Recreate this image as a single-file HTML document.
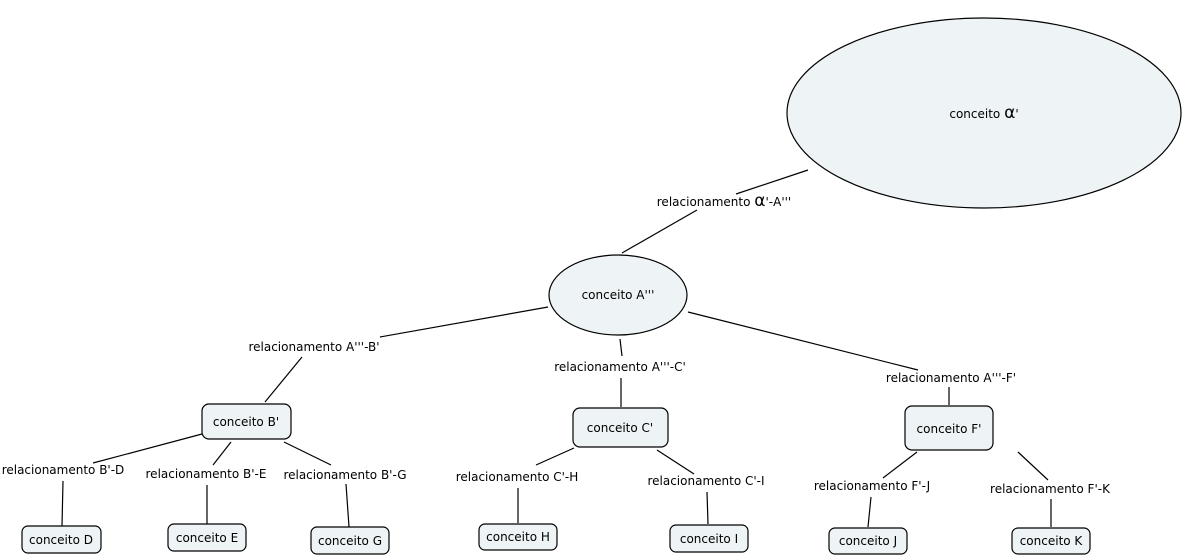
<!DOCTYPE html>
<html><head><meta charset="utf-8"><style>
html,body{margin:0;padding:0;background:#fff;}
svg{display:block;}
text{font-family:"DejaVu Sans","Liberation Sans",sans-serif;font-size:12px;fill:#000;}
</style></head><body>
<svg width="1185" height="557" viewBox="0 0 1185 557" xmlns="http://www.w3.org/2000/svg">
<g stroke="#000" stroke-width="1.2" fill="none">
<line x1="808" y1="170" x2="736" y2="194"/><line x1="697" y1="210" x2="622" y2="253"/>
<line x1="548" y1="307" x2="380" y2="337"/><line x1="302" y1="357" x2="265" y2="402"/>
<line x1="620" y1="339" x2="622" y2="356"/><line x1="621" y1="378" x2="621" y2="407"/>
<line x1="688" y1="312" x2="918" y2="370"/><line x1="949" y1="387" x2="949" y2="405"/>
<line x1="202" y1="434" x2="93" y2="463"/><line x1="63" y1="481" x2="62" y2="526"/>
<line x1="231" y1="442" x2="213" y2="465"/><line x1="207" y1="485" x2="207" y2="524"/>
<line x1="284" y1="442" x2="331" y2="465"/><line x1="346" y1="484" x2="349" y2="527"/>
<line x1="574" y1="448" x2="536" y2="465"/><line x1="518" y1="488" x2="518" y2="523"/>
<line x1="657" y1="450" x2="694" y2="474"/><line x1="707" y1="492" x2="708" y2="524"/>
<line x1="917" y1="452" x2="883" y2="478"/><line x1="871" y1="497" x2="868" y2="527"/>
<line x1="1018" y1="452" x2="1048" y2="480"/><line x1="1051" y1="499" x2="1051" y2="527"/>
</g>
<g stroke="#000" stroke-width="1.2" fill="#eef3f5">
<ellipse cx="984" cy="113" rx="197" ry="95"/>
<ellipse cx="618" cy="295" rx="69" ry="40"/>
<rect x="202" y="404" width="89" height="35" rx="7"/>
<rect x="573" y="408" width="95" height="39" rx="7"/>
<rect x="905" y="406" width="88" height="44" rx="7"/>
<rect x="22" y="526" width="79" height="27" rx="6"/>
<rect x="168" y="524" width="78" height="27" rx="6"/>
<rect x="311" y="527" width="78" height="27" rx="6"/>
<rect x="479" y="524" width="78" height="26" rx="6"/>
<rect x="670" y="525" width="78" height="27" rx="6"/>
<rect x="829" y="528" width="78" height="26" rx="6"/>
<rect x="1012" y="528" width="78" height="26" rx="6"/>
</g>
<g text-anchor="middle">
<text x="984" y="118">conceito <tspan style="font-size:17px">α</tspan>'</text>
<text x="618" y="299">conceito A'''</text>
<text x="724" y="206">relacionamento <tspan style="font-size:17px">α</tspan>'-A'''</text>
<text x="314" y="351">relacionamento A'''-B'</text>
<text x="620" y="371">relacionamento A'''-C'</text>
<text x="951" y="382">relacionamento A'''-F'</text>
<text x="246" y="426">conceito B'</text>
<text x="620" y="432">conceito C'</text>
<text x="949" y="433">conceito F'</text>
<text x="63" y="474">relacionamento B'-D</text>
<text x="206" y="478">relacionamento B'-E</text>
<text x="345" y="479">relacionamento B'-G</text>
<text x="517" y="481">relacionamento C'-H</text>
<text x="706" y="485">relacionamento C'-I</text>
<text x="872" y="490">relacionamento F'-J</text>
<text x="1050" y="493">relacionamento F'-K</text>
<text x="61" y="544">conceito D</text>
<text x="207" y="542">conceito E</text>
<text x="350" y="545">conceito G</text>
<text x="518" y="541">conceito H</text>
<text x="709" y="543">conceito I</text>
<text x="868" y="545">conceito J</text>
<text x="1051" y="545">conceito K</text>
</g>
</svg>
</body></html>
